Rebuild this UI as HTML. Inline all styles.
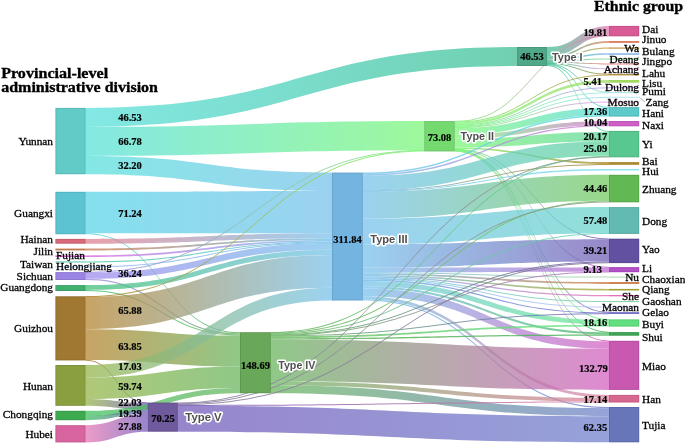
<!DOCTYPE html>
<html><head><meta charset="utf-8"><style>
html,body{margin:0;padding:0;background:#fff;width:685px;height:443px;overflow:hidden}
svg{display:block}
.t{font-family:"Liberation Serif",serif;font-size:11.3px;fill:#000;stroke:#000;stroke-width:0.3px}
.v{font-family:"Liberation Serif",serif;font-size:10.5px;font-weight:bold;fill:#000;stroke:#000;stroke-width:0.2px}
.h{font-family:"Liberation Serif",serif;font-size:15.2px;font-weight:bold;fill:#000;stroke:#000;stroke-width:0.35px}
.ty{font-family:"Liberation Sans",sans-serif;font-size:11.1px;font-weight:bold;fill:#505050;stroke:#fff;stroke-width:3.2px;paint-order:stroke;stroke-linejoin:round}
</style></head><body>
<svg width="685" height="443" viewBox="0 0 685 443">
<defs><linearGradient id="g0" gradientUnits="userSpaceOnUse" x1="85.7" x2="516.8" y1="0" y2="0"><stop offset="0" stop-color="#59e0db"/><stop offset="1" stop-color="#3ebf94"/></linearGradient>
<linearGradient id="g1" gradientUnits="userSpaceOnUse" x1="85.7" x2="424.2" y1="0" y2="0"><stop offset="0" stop-color="#59e0db"/><stop offset="1" stop-color="#7cf679"/></linearGradient>
<linearGradient id="g2" gradientUnits="userSpaceOnUse" x1="85.7" x2="332" y1="0" y2="0"><stop offset="0" stop-color="#59e0db"/><stop offset="1" stop-color="#79c2eb"/></linearGradient>
<linearGradient id="g3" gradientUnits="userSpaceOnUse" x1="85.7" x2="332" y1="0" y2="0"><stop offset="0" stop-color="#59d5e5"/><stop offset="1" stop-color="#79c2eb"/></linearGradient>
<linearGradient id="g4" gradientUnits="userSpaceOnUse" x1="85.7" x2="240" y1="0" y2="0"><stop offset="0" stop-color="#59d5e5"/><stop offset="1" stop-color="#69b55e"/></linearGradient>
<linearGradient id="g5" gradientUnits="userSpaceOnUse" x1="85.7" x2="332" y1="0" y2="0"><stop offset="0" stop-color="#e07f8f"/><stop offset="1" stop-color="#79c2eb"/></linearGradient>
<linearGradient id="g6" gradientUnits="userSpaceOnUse" x1="85.7" x2="332" y1="0" y2="0"><stop offset="0" stop-color="#ca7f53"/><stop offset="1" stop-color="#79c2eb"/></linearGradient>
<linearGradient id="g7" gradientUnits="userSpaceOnUse" x1="85.7" x2="332" y1="0" y2="0"><stop offset="0" stop-color="#d569e0"/><stop offset="1" stop-color="#79c2eb"/></linearGradient>
<linearGradient id="g8" gradientUnits="userSpaceOnUse" x1="85.7" x2="332" y1="0" y2="0"><stop offset="0" stop-color="#3eca9f"/><stop offset="1" stop-color="#79c2eb"/></linearGradient>
<linearGradient id="g9" gradientUnits="userSpaceOnUse" x1="85.7" x2="332" y1="0" y2="0"><stop offset="0" stop-color="#94baf0"/><stop offset="1" stop-color="#79c2eb"/></linearGradient>
<linearGradient id="g10" gradientUnits="userSpaceOnUse" x1="85.7" x2="424.2" y1="0" y2="0"><stop offset="0" stop-color="#9f89eb"/><stop offset="1" stop-color="#7cf679"/></linearGradient>
<linearGradient id="g11" gradientUnits="userSpaceOnUse" x1="85.7" x2="332" y1="0" y2="0"><stop offset="0" stop-color="#9f89eb"/><stop offset="1" stop-color="#79c2eb"/></linearGradient>
<linearGradient id="g12" gradientUnits="userSpaceOnUse" x1="85.7" x2="240" y1="0" y2="0"><stop offset="0" stop-color="#9f89eb"/><stop offset="1" stop-color="#69b55e"/></linearGradient>
<linearGradient id="g13" gradientUnits="userSpaceOnUse" x1="85.7" x2="332" y1="0" y2="0"><stop offset="0" stop-color="#3ebf74"/><stop offset="1" stop-color="#79c2eb"/></linearGradient>
<linearGradient id="g14" gradientUnits="userSpaceOnUse" x1="85.7" x2="240" y1="0" y2="0"><stop offset="0" stop-color="#3ebf74"/><stop offset="1" stop-color="#69b55e"/></linearGradient>
<linearGradient id="g15" gradientUnits="userSpaceOnUse" x1="85.7" x2="424.2" y1="0" y2="0"><stop offset="0" stop-color="#b58430"/><stop offset="1" stop-color="#7cf679"/></linearGradient>
<linearGradient id="g16" gradientUnits="userSpaceOnUse" x1="85.7" x2="332" y1="0" y2="0"><stop offset="0" stop-color="#b58430"/><stop offset="1" stop-color="#79c2eb"/></linearGradient>
<linearGradient id="g17" gradientUnits="userSpaceOnUse" x1="85.7" x2="240" y1="0" y2="0"><stop offset="0" stop-color="#b58430"/><stop offset="1" stop-color="#69b55e"/></linearGradient>
<linearGradient id="g18" gradientUnits="userSpaceOnUse" x1="85.7" x2="147.5" y1="0" y2="0"><stop offset="0" stop-color="#b58430"/><stop offset="1" stop-color="#745bba"/></linearGradient>
<linearGradient id="g19" gradientUnits="userSpaceOnUse" x1="85.7" x2="332" y1="0" y2="0"><stop offset="0" stop-color="#94b549"/><stop offset="1" stop-color="#79c2eb"/></linearGradient>
<linearGradient id="g20" gradientUnits="userSpaceOnUse" x1="85.7" x2="240" y1="0" y2="0"><stop offset="0" stop-color="#94b549"/><stop offset="1" stop-color="#69b55e"/></linearGradient>
<linearGradient id="g21" gradientUnits="userSpaceOnUse" x1="85.7" x2="147.5" y1="0" y2="0"><stop offset="0" stop-color="#94b549"/><stop offset="1" stop-color="#745bba"/></linearGradient>
<linearGradient id="g22" gradientUnits="userSpaceOnUse" x1="85.7" x2="240" y1="0" y2="0"><stop offset="0" stop-color="#3ebf5e"/><stop offset="1" stop-color="#69b55e"/></linearGradient>
<linearGradient id="g23" gradientUnits="userSpaceOnUse" x1="85.7" x2="147.5" y1="0" y2="0"><stop offset="0" stop-color="#3ebf5e"/><stop offset="1" stop-color="#745bba"/></linearGradient>
<linearGradient id="g24" gradientUnits="userSpaceOnUse" x1="85.7" x2="147.5" y1="0" y2="0"><stop offset="0" stop-color="#e579b5"/><stop offset="1" stop-color="#745bba"/></linearGradient>
<linearGradient id="g25" gradientUnits="userSpaceOnUse" x1="547.2" x2="609" y1="0" y2="0"><stop offset="0" stop-color="#3ebf94"/><stop offset="1" stop-color="#e077af"/></linearGradient>
<linearGradient id="g26" gradientUnits="userSpaceOnUse" x1="547.2" x2="609" y1="0" y2="0"><stop offset="0" stop-color="#3ebf94"/><stop offset="1" stop-color="#e07f53"/></linearGradient>
<linearGradient id="g27" gradientUnits="userSpaceOnUse" x1="547.2" x2="609" y1="0" y2="0"><stop offset="0" stop-color="#3ebf94"/><stop offset="1" stop-color="#d09f3e"/></linearGradient>
<linearGradient id="g28" gradientUnits="userSpaceOnUse" x1="547.2" x2="609" y1="0" y2="0"><stop offset="0" stop-color="#3ebf94"/><stop offset="1" stop-color="#7fb5eb"/></linearGradient>
<linearGradient id="g29" gradientUnits="userSpaceOnUse" x1="547.2" x2="609" y1="0" y2="0"><stop offset="0" stop-color="#3ebf94"/><stop offset="1" stop-color="#89db94"/></linearGradient>
<linearGradient id="g30" gradientUnits="userSpaceOnUse" x1="547.2" x2="609" y1="0" y2="0"><stop offset="0" stop-color="#3ebf94"/><stop offset="1" stop-color="#f07f7f"/></linearGradient>
<linearGradient id="g31" gradientUnits="userSpaceOnUse" x1="547.2" x2="609" y1="0" y2="0"><stop offset="0" stop-color="#3ebf94"/><stop offset="1" stop-color="#e09fe0"/></linearGradient>
<linearGradient id="g32" gradientUnits="userSpaceOnUse" x1="547.2" x2="609" y1="0" y2="0"><stop offset="0" stop-color="#3ebf94"/><stop offset="1" stop-color="#b5943e"/></linearGradient>
<linearGradient id="g33" gradientUnits="userSpaceOnUse" x1="547.2" x2="609" y1="0" y2="0"><stop offset="0" stop-color="#3ebf94"/><stop offset="1" stop-color="#9fe5e5"/></linearGradient>
<linearGradient id="g34" gradientUnits="userSpaceOnUse" x1="547.2" x2="609" y1="0" y2="0"><stop offset="0" stop-color="#3ebf94"/><stop offset="1" stop-color="#59dbdb"/></linearGradient>
<linearGradient id="g35" gradientUnits="userSpaceOnUse" x1="547.2" x2="609" y1="0" y2="0"><stop offset="0" stop-color="#3ebf94"/><stop offset="1" stop-color="#5ed59a"/></linearGradient>
<linearGradient id="g36" gradientUnits="userSpaceOnUse" x1="454.8" x2="609" y1="0" y2="0"><stop offset="0" stop-color="#7cf679"/><stop offset="1" stop-color="#e077af"/></linearGradient>
<linearGradient id="g37" gradientUnits="userSpaceOnUse" x1="454.8" x2="609" y1="0" y2="0"><stop offset="0" stop-color="#7cf679"/><stop offset="1" stop-color="#b5943e"/></linearGradient>
<linearGradient id="g38" gradientUnits="userSpaceOnUse" x1="454.8" x2="609" y1="0" y2="0"><stop offset="0" stop-color="#7cf679"/><stop offset="1" stop-color="#9fdb5e"/></linearGradient>
<linearGradient id="g39" gradientUnits="userSpaceOnUse" x1="454.8" x2="609" y1="0" y2="0"><stop offset="0" stop-color="#7cf679"/><stop offset="1" stop-color="#ba9af0"/></linearGradient>
<linearGradient id="g40" gradientUnits="userSpaceOnUse" x1="454.8" x2="609" y1="0" y2="0"><stop offset="0" stop-color="#7cf679"/><stop offset="1" stop-color="#9fe5e5"/></linearGradient>
<linearGradient id="g41" gradientUnits="userSpaceOnUse" x1="454.8" x2="609" y1="0" y2="0"><stop offset="0" stop-color="#7cf679"/><stop offset="1" stop-color="#9fe0f0"/></linearGradient>
<linearGradient id="g42" gradientUnits="userSpaceOnUse" x1="454.8" x2="609" y1="0" y2="0"><stop offset="0" stop-color="#7cf679"/><stop offset="1" stop-color="#e09feb"/></linearGradient>
<linearGradient id="g43" gradientUnits="userSpaceOnUse" x1="454.8" x2="609" y1="0" y2="0"><stop offset="0" stop-color="#7cf679"/><stop offset="1" stop-color="#59dbdb"/></linearGradient>
<linearGradient id="g44" gradientUnits="userSpaceOnUse" x1="454.8" x2="609" y1="0" y2="0"><stop offset="0" stop-color="#7cf679"/><stop offset="1" stop-color="#d574d0"/></linearGradient>
<linearGradient id="g45" gradientUnits="userSpaceOnUse" x1="454.8" x2="609" y1="0" y2="0"><stop offset="0" stop-color="#7cf679"/><stop offset="1" stop-color="#5ed59a"/></linearGradient>
<linearGradient id="g46" gradientUnits="userSpaceOnUse" x1="454.8" x2="609" y1="0" y2="0"><stop offset="0" stop-color="#7cf679"/><stop offset="1" stop-color="#af8928"/></linearGradient>
<linearGradient id="g47" gradientUnits="userSpaceOnUse" x1="454.8" x2="609" y1="0" y2="0"><stop offset="0" stop-color="#7cf679"/><stop offset="1" stop-color="#745eb5"/></linearGradient>
<linearGradient id="g48" gradientUnits="userSpaceOnUse" x1="454.8" x2="609" y1="0" y2="0"><stop offset="0" stop-color="#7cf679"/><stop offset="1" stop-color="#bf69d0"/></linearGradient>
<linearGradient id="g49" gradientUnits="userSpaceOnUse" x1="454.8" x2="609" y1="0" y2="0"><stop offset="0" stop-color="#7cf679"/><stop offset="1" stop-color="#7469ca"/></linearGradient>
<linearGradient id="g50" gradientUnits="userSpaceOnUse" x1="454.8" x2="609" y1="0" y2="0"><stop offset="0" stop-color="#7cf679"/><stop offset="1" stop-color="#69eb89"/></linearGradient>
<linearGradient id="g51" gradientUnits="userSpaceOnUse" x1="454.8" x2="609" y1="0" y2="0"><stop offset="0" stop-color="#7cf679"/><stop offset="1" stop-color="#49b55e"/></linearGradient>
<linearGradient id="g52" gradientUnits="userSpaceOnUse" x1="454.8" x2="609" y1="0" y2="0"><stop offset="0" stop-color="#7cf679"/><stop offset="1" stop-color="#d561c2"/></linearGradient>
<linearGradient id="g53" gradientUnits="userSpaceOnUse" x1="362.9" x2="609" y1="0" y2="0"><stop offset="0" stop-color="#79c2eb"/><stop offset="1" stop-color="#59dbdb"/></linearGradient>
<linearGradient id="g54" gradientUnits="userSpaceOnUse" x1="362.9" x2="609" y1="0" y2="0"><stop offset="0" stop-color="#79c2eb"/><stop offset="1" stop-color="#d574d0"/></linearGradient>
<linearGradient id="g55" gradientUnits="userSpaceOnUse" x1="362.9" x2="609" y1="0" y2="0"><stop offset="0" stop-color="#79c2eb"/><stop offset="1" stop-color="#5ed59a"/></linearGradient>
<linearGradient id="g56" gradientUnits="userSpaceOnUse" x1="362.9" x2="609" y1="0" y2="0"><stop offset="0" stop-color="#79c2eb"/><stop offset="1" stop-color="#af8928"/></linearGradient>
<linearGradient id="g57" gradientUnits="userSpaceOnUse" x1="362.9" x2="609" y1="0" y2="0"><stop offset="0" stop-color="#79c2eb"/><stop offset="1" stop-color="#7fe0f0"/></linearGradient>
<linearGradient id="g58" gradientUnits="userSpaceOnUse" x1="362.9" x2="609" y1="0" y2="0"><stop offset="0" stop-color="#79c2eb"/><stop offset="1" stop-color="#74ca5e"/></linearGradient>
<linearGradient id="g59" gradientUnits="userSpaceOnUse" x1="362.9" x2="609" y1="0" y2="0"><stop offset="0" stop-color="#79c2eb"/><stop offset="1" stop-color="#69d5ca"/></linearGradient>
<linearGradient id="g60" gradientUnits="userSpaceOnUse" x1="362.9" x2="609" y1="0" y2="0"><stop offset="0" stop-color="#79c2eb"/><stop offset="1" stop-color="#745eb5"/></linearGradient>
<linearGradient id="g61" gradientUnits="userSpaceOnUse" x1="362.9" x2="609" y1="0" y2="0"><stop offset="0" stop-color="#79c2eb"/><stop offset="1" stop-color="#bf69d0"/></linearGradient>
<linearGradient id="g62" gradientUnits="userSpaceOnUse" x1="362.9" x2="609" y1="0" y2="0"><stop offset="0" stop-color="#79c2eb"/><stop offset="1" stop-color="#a4d59f"/></linearGradient>
<linearGradient id="g63" gradientUnits="userSpaceOnUse" x1="362.9" x2="609" y1="0" y2="0"><stop offset="0" stop-color="#79c2eb"/><stop offset="1" stop-color="#d07f49"/></linearGradient>
<linearGradient id="g64" gradientUnits="userSpaceOnUse" x1="362.9" x2="609" y1="0" y2="0"><stop offset="0" stop-color="#79c2eb"/><stop offset="1" stop-color="#aaaa33"/></linearGradient>
<linearGradient id="g65" gradientUnits="userSpaceOnUse" x1="362.9" x2="609" y1="0" y2="0"><stop offset="0" stop-color="#79c2eb"/><stop offset="1" stop-color="#e574ba"/></linearGradient>
<linearGradient id="g66" gradientUnits="userSpaceOnUse" x1="362.9" x2="609" y1="0" y2="0"><stop offset="0" stop-color="#79c2eb"/><stop offset="1" stop-color="#7fd09f"/></linearGradient>
<linearGradient id="g67" gradientUnits="userSpaceOnUse" x1="362.9" x2="609" y1="0" y2="0"><stop offset="0" stop-color="#79c2eb"/><stop offset="1" stop-color="#bac5f0"/></linearGradient>
<linearGradient id="g68" gradientUnits="userSpaceOnUse" x1="362.9" x2="609" y1="0" y2="0"><stop offset="0" stop-color="#79c2eb"/><stop offset="1" stop-color="#7469ca"/></linearGradient>
<linearGradient id="g69" gradientUnits="userSpaceOnUse" x1="362.9" x2="609" y1="0" y2="0"><stop offset="0" stop-color="#79c2eb"/><stop offset="1" stop-color="#69eb89"/></linearGradient>
<linearGradient id="g70" gradientUnits="userSpaceOnUse" x1="362.9" x2="609" y1="0" y2="0"><stop offset="0" stop-color="#79c2eb"/><stop offset="1" stop-color="#49b55e"/></linearGradient>
<linearGradient id="g71" gradientUnits="userSpaceOnUse" x1="362.9" x2="609" y1="0" y2="0"><stop offset="0" stop-color="#79c2eb"/><stop offset="1" stop-color="#d561c2"/></linearGradient>
<linearGradient id="g72" gradientUnits="userSpaceOnUse" x1="362.9" x2="609" y1="0" y2="0"><stop offset="0" stop-color="#79c2eb"/><stop offset="1" stop-color="#e07f9f"/></linearGradient>
<linearGradient id="g73" gradientUnits="userSpaceOnUse" x1="362.9" x2="609" y1="0" y2="0"><stop offset="0" stop-color="#79c2eb"/><stop offset="1" stop-color="#7181cd"/></linearGradient>
<linearGradient id="g74" gradientUnits="userSpaceOnUse" x1="270.9" x2="609" y1="0" y2="0"><stop offset="0" stop-color="#69b55e"/><stop offset="1" stop-color="#5ed59a"/></linearGradient>
<linearGradient id="g75" gradientUnits="userSpaceOnUse" x1="270.9" x2="609" y1="0" y2="0"><stop offset="0" stop-color="#69b55e"/><stop offset="1" stop-color="#74ca5e"/></linearGradient>
<linearGradient id="g76" gradientUnits="userSpaceOnUse" x1="270.9" x2="609" y1="0" y2="0"><stop offset="0" stop-color="#69b55e"/><stop offset="1" stop-color="#69d5ca"/></linearGradient>
<linearGradient id="g77" gradientUnits="userSpaceOnUse" x1="270.9" x2="609" y1="0" y2="0"><stop offset="0" stop-color="#69b55e"/><stop offset="1" stop-color="#745eb5"/></linearGradient>
<linearGradient id="g78" gradientUnits="userSpaceOnUse" x1="270.9" x2="609" y1="0" y2="0"><stop offset="0" stop-color="#69b55e"/><stop offset="1" stop-color="#bf69d0"/></linearGradient>
<linearGradient id="g79" gradientUnits="userSpaceOnUse" x1="270.9" x2="609" y1="0" y2="0"><stop offset="0" stop-color="#69b55e"/><stop offset="1" stop-color="#7469ca"/></linearGradient>
<linearGradient id="g80" gradientUnits="userSpaceOnUse" x1="270.9" x2="609" y1="0" y2="0"><stop offset="0" stop-color="#69b55e"/><stop offset="1" stop-color="#69eb89"/></linearGradient>
<linearGradient id="g81" gradientUnits="userSpaceOnUse" x1="270.9" x2="609" y1="0" y2="0"><stop offset="0" stop-color="#69b55e"/><stop offset="1" stop-color="#49b55e"/></linearGradient>
<linearGradient id="g82" gradientUnits="userSpaceOnUse" x1="270.9" x2="609" y1="0" y2="0"><stop offset="0" stop-color="#69b55e"/><stop offset="1" stop-color="#d561c2"/></linearGradient>
<linearGradient id="g83" gradientUnits="userSpaceOnUse" x1="270.9" x2="609" y1="0" y2="0"><stop offset="0" stop-color="#69b55e"/><stop offset="1" stop-color="#e07f9f"/></linearGradient>
<linearGradient id="g84" gradientUnits="userSpaceOnUse" x1="270.9" x2="609" y1="0" y2="0"><stop offset="0" stop-color="#69b55e"/><stop offset="1" stop-color="#7181cd"/></linearGradient>
<linearGradient id="g85" gradientUnits="userSpaceOnUse" x1="177.9" x2="609" y1="0" y2="0"><stop offset="0" stop-color="#8a7ca0"/><stop offset="1" stop-color="#8a9a8a"/></linearGradient>
<linearGradient id="g86" gradientUnits="userSpaceOnUse" x1="177.9" x2="609" y1="0" y2="0"><stop offset="0" stop-color="#8a7ca0"/><stop offset="1" stop-color="#8a9a8a"/></linearGradient>
<linearGradient id="g87" gradientUnits="userSpaceOnUse" x1="177.9" x2="609" y1="0" y2="0"><stop offset="0" stop-color="#8a7ca0"/><stop offset="1" stop-color="#807890"/></linearGradient>
<linearGradient id="g88" gradientUnits="userSpaceOnUse" x1="177.9" x2="609" y1="0" y2="0"><stop offset="0" stop-color="#745bba"/><stop offset="1" stop-color="#e07f9f"/></linearGradient>
<linearGradient id="g89" gradientUnits="userSpaceOnUse" x1="177.9" x2="609" y1="0" y2="0"><stop offset="0" stop-color="#745bba"/><stop offset="1" stop-color="#7181cd"/></linearGradient></defs>
<g><path d="M85.7,107.9C301.25,107.9 301.25,47 516.8,47L516.8,66C301.25,66 301.25,126.9 85.7,126.9Z" fill="url(#g0)" fill-opacity="0.74"/>
<path d="M85.7,126.9C254.95,126.9 254.95,121.1 424.2,121.1L424.2,150.2C254.95,150.2 254.95,155.9 85.7,155.9Z" fill="url(#g1)" fill-opacity="0.74"/>
<path d="M85.7,155.9C208.85,155.9 208.85,172.6 332,172.6L332,191.02C208.85,191.02 208.85,174.2 85.7,174.2Z" fill="url(#g2)" fill-opacity="0.74"/>
<path d="M85.7,191.8C208.85,191.8 208.85,191.02 332,191.02L332,233.28C208.85,233.28 208.85,233.21 85.7,233.21Z" fill="url(#g3)" fill-opacity="0.74"/>
<path d="M85.7,233.21C162.85,233.21 162.85,332.2 240,332.2L240,333.2C162.85,333.2 162.85,234.21 85.7,234.21Z" fill="url(#g4)" fill-opacity="0.85"/>
<path d="M85.7,238.9C208.85,238.9 208.85,233.28 332,233.28L332,238.31C208.85,238.31 208.85,243.7 85.7,243.7Z" fill="url(#g5)" fill-opacity="0.74"/>
<path d="M85.7,248.6C208.85,248.6 208.85,238.31 332,238.31L332,239.92C208.85,239.92 208.85,250.4 85.7,250.4Z" fill="url(#g6)" fill-opacity="0.8"/>
<path d="M85.7,255.4C208.85,255.4 208.85,239.92 332,239.92L332,241.53C208.85,241.53 208.85,257 85.7,257Z" fill="url(#g7)" fill-opacity="0.8"/>
<path d="M85.7,261.45C208.85,261.45 208.85,241.43 332,241.43L332,242.43C208.85,242.43 208.85,262.45 85.7,262.45Z" fill="url(#g8)" fill-opacity="0.85"/>
<path d="M85.7,266.4C208.85,266.4 208.85,242.19 332,242.19L332,243.19C208.85,243.19 208.85,267.4 85.7,267.4Z" fill="url(#g9)" fill-opacity="0.85"/>
<path d="M85.7,271.88C254.95,271.88 254.95,150 424.2,150L424.2,151C254.95,151 254.95,272.88 85.7,272.88Z" fill="url(#g10)" fill-opacity="0.85"/>
<path d="M85.7,272.66C208.85,272.66 208.85,243.04 332,243.04L332,249.68C208.85,249.68 208.85,278.79 85.7,278.79Z" fill="url(#g11)" fill-opacity="0.74"/>
<path d="M85.7,278.79C162.85,278.79 162.85,333.2 240,333.2L240,334.5C162.85,334.5 162.85,280 85.7,280Z" fill="url(#g12)" fill-opacity="0.8"/>
<path d="M85.7,285.1C208.85,285.1 208.85,249.68 332,249.68L332,255.12C208.85,255.12 208.85,290 85.7,290Z" fill="url(#g13)" fill-opacity="0.74"/>
<path d="M85.7,290C162.85,290 162.85,334.5 240,334.5L240,335.59C162.85,335.59 162.85,291 85.7,291Z" fill="url(#g14)" fill-opacity="0.85"/>
<path d="M85.7,296.1C254.95,296.1 254.95,150.6 424.2,150.6L424.2,151.6C254.95,151.6 254.95,297.1 85.7,297.1Z" fill="url(#g15)" fill-opacity="0.85"/>
<path d="M85.7,296.9C208.85,296.9 208.85,255.12 332,255.12L332,287.82C208.85,287.82 208.85,329.14 85.7,329.14Z" fill="url(#g16)" fill-opacity="0.74"/>
<path d="M85.7,329.14C162.85,329.14 162.85,335.59 240,335.59L240,366.54C162.85,366.54 162.85,359.9 85.7,359.9Z" fill="url(#g17)" fill-opacity="0.74"/>
<path d="M85.7,359.65C116.6,359.65 116.6,402.35 147.5,402.35L147.5,403.35C116.6,403.35 116.6,360.65 85.7,360.65Z" fill="url(#g18)" fill-opacity="0.85"/>
<path d="M85.7,365C208.85,365 208.85,287.82 332,287.82L332,300.5C208.85,300.5 208.85,377.6 85.7,377.6Z" fill="url(#g19)" fill-opacity="0.74"/>
<path d="M85.7,377.6C162.85,377.6 162.85,366.54 240,366.54L240,387.91C162.85,387.91 162.85,399 85.7,399Z" fill="url(#g20)" fill-opacity="0.74"/>
<path d="M85.7,399C116.6,399 116.6,403.11 147.5,403.11L147.5,409.98C116.6,409.98 116.6,405.8 85.7,405.8Z" fill="url(#g21)" fill-opacity="0.74"/>
<path d="M85.7,410.8C162.85,410.8 162.85,387.91 240,387.91L240,393.2C162.85,393.2 162.85,416.1 85.7,416.1Z" fill="url(#g22)" fill-opacity="0.74"/>
<path d="M85.7,416.1C116.6,416.1 116.6,409.98 147.5,409.98L147.5,414.12C116.6,414.12 116.6,420.2 85.7,420.2Z" fill="url(#g23)" fill-opacity="0.74"/>
<path d="M85.7,425.2C116.6,425.2 116.6,414.12 147.5,414.12L147.5,431.7C116.6,431.7 116.6,442.4 85.7,442.4Z" fill="url(#g24)" fill-opacity="0.74"/>
<path d="M547.2,47C578.1,47 578.1,25.9 609,25.9L609,35.79C578.1,35.79 578.1,56.6 547.2,56.6Z" fill="url(#g25)" fill-opacity="0.74"/>
<path d="M547.2,56.6C578.1,56.6 578.1,41.1 609,41.1L609,42.8C578.1,42.8 578.1,58.2 547.2,58.2Z" fill="url(#g26)" fill-opacity="0.8"/>
<path d="M547.2,58.2C578.1,58.2 578.1,47.4 609,47.4L609,48.8C578.1,48.8 578.1,59.5 547.2,59.5Z" fill="url(#g27)" fill-opacity="0.8"/>
<path d="M547.2,59.5C578.1,59.5 578.1,53.3 609,53.3L609,54.8C578.1,54.8 578.1,60.9 547.2,60.9Z" fill="url(#g28)" fill-opacity="0.8"/>
<path d="M547.2,60.8C578.1,60.8 578.1,58.5 609,58.5L609,59.5C578.1,59.5 578.1,61.8 547.2,61.8Z" fill="url(#g29)" fill-opacity="0.85"/>
<path d="M547.2,61.6C578.1,61.6 578.1,63.5 609,63.5L609,64.5C578.1,64.5 578.1,62.6 547.2,62.6Z" fill="url(#g30)" fill-opacity="0.85"/>
<path d="M547.2,62.35C578.1,62.35 578.1,68.5 609,68.5L609,69.5C578.1,69.5 578.1,63.35 547.2,63.35Z" fill="url(#g31)" fill-opacity="0.85"/>
<path d="M547.2,63C578.1,63 578.1,73.72 609,73.72L609,74.72C578.1,74.72 578.1,64 547.2,64Z" fill="url(#g32)" fill-opacity="0.85"/>
<path d="M547.2,63.45C578.1,63.45 578.1,91.77 609,91.77L609,92.77C578.1,92.77 578.1,64.45 547.2,64.45Z" fill="url(#g33)" fill-opacity="0.85"/>
<path d="M547.2,64.05C578.1,64.05 578.1,107.05 609,107.05L609,108.05C578.1,108.05 578.1,65.05 547.2,65.05Z" fill="url(#g34)" fill-opacity="0.85"/>
<path d="M547.2,65C578.1,65 578.1,130.9 609,130.9L609,131.93C578.1,131.93 578.1,66 547.2,66Z" fill="url(#g35)" fill-opacity="0.85"/>
<path d="M454.8,120.84C531.9,120.84 531.9,35.54 609,35.54L609,36.54C531.9,36.54 531.9,121.84 454.8,121.84Z" fill="url(#g36)" fill-opacity="0.85"/>
<path d="M454.8,121.46C531.9,121.46 531.9,74.47 609,74.47L609,75.47C531.9,75.47 531.9,122.46 454.8,122.46Z" fill="url(#g37)" fill-opacity="0.85"/>
<path d="M454.8,122.35C531.9,122.35 531.9,80 609,80L609,82.7C531.9,82.7 531.9,124.94 454.8,124.94Z" fill="url(#g38)" fill-opacity="0.74"/>
<path d="M454.8,124.87C531.9,124.87 531.9,87.2 609,87.2L609,88.2C531.9,88.2 531.9,125.87 454.8,125.87Z" fill="url(#g39)" fill-opacity="0.85"/>
<path d="M454.8,125.59C531.9,125.59 531.9,92.27 609,92.27L609,93.27C531.9,93.27 531.9,126.59 454.8,126.59Z" fill="url(#g40)" fill-opacity="0.85"/>
<path d="M454.8,126.22C531.9,126.22 531.9,96.7 609,96.7L609,97.7C531.9,97.7 531.9,127.22 454.8,127.22Z" fill="url(#g41)" fill-opacity="0.85"/>
<path d="M454.8,126.99C531.9,126.99 531.9,101.6 609,101.6L609,102.6C531.9,102.6 531.9,127.99 454.8,127.99Z" fill="url(#g42)" fill-opacity="0.85"/>
<path d="M454.8,127.92C531.9,127.92 531.9,108.01 609,108.01L609,115.08C531.9,115.08 531.9,134.64 454.8,134.64Z" fill="url(#g43)" fill-opacity="0.74"/>
<path d="M454.8,134.64C531.9,134.64 531.9,121 609,121L609,124.93C531.9,124.93 531.9,138.77 454.8,138.77Z" fill="url(#g44)" fill-opacity="0.74"/>
<path d="M454.8,138.77C531.9,138.77 531.9,131.93 609,131.93L609,141.17C531.9,141.17 531.9,147.41 454.8,147.41Z" fill="url(#g45)" fill-opacity="0.74"/>
<path d="M454.8,147.41C531.9,147.41 531.9,162.1 609,162.1L609,164.16C531.9,164.16 531.9,148.95 454.8,148.95Z" fill="url(#g46)" fill-opacity="0.8"/>
<path d="M454.8,148.67C531.9,148.67 531.9,238.42 609,238.42L609,239.42C531.9,239.42 531.9,149.67 454.8,149.67Z" fill="url(#g47)" fill-opacity="0.85"/>
<path d="M454.8,149.08C531.9,149.08 531.9,266.79 609,266.79L609,267.79C531.9,267.79 531.9,150.08 454.8,150.08Z" fill="url(#g48)" fill-opacity="0.85"/>
<path d="M454.8,149.46C531.9,149.46 531.9,311.84 609,311.84L609,312.84C531.9,312.84 531.9,150.46 454.8,150.46Z" fill="url(#g49)" fill-opacity="0.85"/>
<path d="M454.8,149.87C531.9,149.87 531.9,319.12 609,319.12L609,320.12C531.9,320.12 531.9,150.87 454.8,150.87Z" fill="url(#g50)" fill-opacity="0.85"/>
<path d="M454.8,150.28C531.9,150.28 531.9,331.78 609,331.78L609,332.78C531.9,332.78 531.9,151.28 454.8,151.28Z" fill="url(#g51)" fill-opacity="0.85"/>
<path d="M454.8,150.68C531.9,150.68 531.9,340.52 609,340.52L609,341.52C531.9,341.52 531.9,151.68 454.8,151.68Z" fill="url(#g52)" fill-opacity="0.85"/>
<path d="M362.9,172.6C485.95,172.6 485.95,115.08 609,115.08L609,116.6C485.95,116.6 485.95,174.15 362.9,174.15Z" fill="url(#g53)" fill-opacity="0.8"/>
<path d="M362.9,174.15C485.95,174.15 485.95,124.93 609,124.93L609,126.3C485.95,126.3 485.95,175.69 362.9,175.69Z" fill="url(#g54)" fill-opacity="0.8"/>
<path d="M362.9,175.69C485.95,175.69 485.95,141.17 609,141.17L609,155.86C485.95,155.86 485.95,190.43 362.9,190.43Z" fill="url(#g55)" fill-opacity="0.74"/>
<path d="M362.9,190.19C485.95,190.19 485.95,163.98 609,163.98L609,164.98C485.95,164.98 485.95,191.19 362.9,191.19Z" fill="url(#g56)" fill-opacity="0.85"/>
<path d="M362.9,190.86C485.95,190.86 485.95,169.1 609,169.1L609,170.4C485.95,170.4 485.95,191.86 362.9,191.86Z" fill="url(#g57)" fill-opacity="0.85"/>
<path d="M362.9,191.77C485.95,191.77 485.95,174.8 609,174.8L609,200.71C485.95,200.71 485.95,218.57 362.9,218.57Z" fill="url(#g58)" fill-opacity="0.74"/>
<path d="M362.9,218.57C485.95,218.57 485.95,207.1 609,207.1L609,233.18C485.95,233.18 485.95,244.54 362.9,244.54Z" fill="url(#g59)" fill-opacity="0.74"/>
<path d="M362.9,244.54C485.95,244.54 485.95,239.15 609,239.15L609,261.5C485.95,261.5 485.95,267.62 362.9,267.62Z" fill="url(#g60)" fill-opacity="0.74"/>
<path d="M362.9,267.62C485.95,267.62 485.95,267.47 609,267.47L609,271.74C485.95,271.74 485.95,272.36 362.9,272.36Z" fill="url(#g61)" fill-opacity="0.74"/>
<path d="M362.9,272.33C485.95,272.33 485.95,276.6 609,276.6L609,277.6C485.95,277.6 485.95,273.33 362.9,273.33Z" fill="url(#g62)" fill-opacity="0.85"/>
<path d="M362.9,273.29C485.95,273.29 485.95,282.1 609,282.1L609,283.9C485.95,283.9 485.95,275.04 362.9,275.04Z" fill="url(#g63)" fill-opacity="0.8"/>
<path d="M362.9,275.04C485.95,275.04 485.95,288.9 609,288.9L609,290.5C485.95,290.5 485.95,276.59 362.9,276.59Z" fill="url(#g64)" fill-opacity="0.8"/>
<path d="M362.9,276.59C485.95,276.59 485.95,295.1 609,295.1L609,296.3C485.95,296.3 485.95,277.72 362.9,277.72Z" fill="url(#g65)" fill-opacity="0.85"/>
<path d="M362.9,277.69C485.95,277.69 485.95,301.1 609,301.1L609,302.1C485.95,302.1 485.95,278.69 362.9,278.69Z" fill="url(#g66)" fill-opacity="0.85"/>
<path d="M362.9,278.61C485.95,278.61 485.95,306.6 609,306.6L609,307.6C485.95,307.6 485.95,279.61 362.9,279.61Z" fill="url(#g67)" fill-opacity="0.85"/>
<path d="M362.9,279.58C485.95,279.58 485.95,312.45 609,312.45L609,313.45C485.95,313.45 485.95,281.02 362.9,281.02Z" fill="url(#g68)" fill-opacity="0.85"/>
<path d="M362.9,281.02C485.95,281.02 485.95,319.83 609,319.83L609,324.67C485.95,324.67 485.95,286.17 362.9,286.17Z" fill="url(#g69)" fill-opacity="0.74"/>
<path d="M362.9,286.17C485.95,286.17 485.95,332.46 609,332.46L609,334.53C485.95,334.53 485.95,288.54 362.9,288.54Z" fill="url(#g70)" fill-opacity="0.74"/>
<path d="M362.9,288.54C485.95,288.54 485.95,341.25 609,341.25L609,348.61C485.95,348.61 485.95,296.17 362.9,296.17Z" fill="url(#g71)" fill-opacity="0.74"/>
<path d="M362.9,296.17C485.95,296.17 485.95,394.9 609,394.9L609,397.82C485.95,397.82 485.95,299.26 362.9,299.26Z" fill="url(#g72)" fill-opacity="0.74"/>
<path d="M362.9,299.26C485.95,299.26 485.95,407 609,407L609,408.2C485.95,408.2 485.95,300.5 362.9,300.5Z" fill="url(#g73)" fill-opacity="0.8"/>
<path d="M270.9,332C439.95,332 439.95,155.67 609,155.67L609,156.67C439.95,156.67 439.95,333 270.9,333Z" fill="url(#g74)" fill-opacity="0.85"/>
<path d="M270.9,332.7C439.95,332.7 439.95,200.6 609,200.6L609,201.6C439.95,201.6 439.95,333.7 270.9,333.7Z" fill="url(#g75)" fill-opacity="0.85"/>
<path d="M270.9,333.45C439.95,333.45 439.95,233.04 609,233.04L609,234.04C439.95,234.04 439.95,334.45 270.9,334.45Z" fill="url(#g76)" fill-opacity="0.85"/>
<path d="M270.9,334.2C439.95,334.2 439.95,261.4 609,261.4L609,262.4C439.95,262.4 439.95,335.2 270.9,335.2Z" fill="url(#g77)" fill-opacity="0.85"/>
<path d="M270.9,334.86C439.95,334.86 439.95,271.47 609,271.47L609,272.47C439.95,272.47 439.95,335.86 270.9,335.86Z" fill="url(#g78)" fill-opacity="0.85"/>
<path d="M270.9,335.46C439.95,335.46 439.95,313.16 609,313.16L609,314.16C439.95,314.16 439.95,336.46 270.9,336.46Z" fill="url(#g79)" fill-opacity="0.85"/>
<path d="M270.9,336.31C439.95,336.31 439.95,324.67 609,324.67L609,326.6C439.95,326.6 439.95,338.31 270.9,338.31Z" fill="url(#g80)" fill-opacity="0.8"/>
<path d="M270.9,338.31C439.95,338.31 439.95,334.53 609,334.53L609,335.7C439.95,335.7 439.95,339.61 270.9,339.61Z" fill="url(#g81)" fill-opacity="0.85"/>
<path d="M270.9,339.61C439.95,339.61 439.95,348.61 609,348.61L609,389.9C439.95,389.9 439.95,381.18 270.9,381.18Z" fill="url(#g82)" fill-opacity="0.74"/>
<path d="M270.9,381.18C439.95,381.18 439.95,397.82 609,397.82L609,401.72C439.95,401.72 439.95,385.19 270.9,385.19Z" fill="url(#g83)" fill-opacity="0.74"/>
<path d="M270.9,385.19C439.95,385.19 439.95,408.2 609,408.2L609,416.23C439.95,416.23 439.95,393.2 270.9,393.2Z" fill="url(#g84)" fill-opacity="0.74"/>
<path d="M177.9,402.5C393.45,402.5 393.45,156.39 609,156.39L609,157.39C393.45,157.39 393.45,403.5 177.9,403.5Z" fill="url(#g85)" fill-opacity="0.85"/>
<path d="M177.9,403.3C393.45,403.3 393.45,201.4 609,201.4L609,202.4C393.45,202.4 393.45,404.3 177.9,404.3Z" fill="url(#g86)" fill-opacity="0.85"/>
<path d="M177.9,404.09C393.45,404.09 393.45,262.2 609,262.2L609,263.2C393.45,263.2 393.45,405.09 177.9,405.09Z" fill="url(#g87)" fill-opacity="0.85"/>
<path d="M177.9,404.89C393.45,404.89 393.45,401.61 609,401.61L609,402.61C393.45,402.61 393.45,405.89 177.9,405.89Z" fill="url(#g88)" fill-opacity="0.85"/>
<path d="M177.9,405.79C393.45,405.79 393.45,416.23 609,416.23L609,442.3C393.45,442.3 393.45,431.7 177.9,431.7Z" fill="url(#g89)" fill-opacity="0.74"/></g>
<g><rect x="55.4" y="107.9" width="30.3" height="66.3" fill="#62cbc7"/>
<rect x="55.9" y="108.4" width="29.3" height="65.3" fill="none" stroke="#000" stroke-opacity="0.09" stroke-width="1"/>
<rect x="55.4" y="191.8" width="30.3" height="42.4" fill="#5cc3d3"/>
<rect x="55.9" y="192.3" width="29.3" height="41.4" fill="none" stroke="#000" stroke-opacity="0.09" stroke-width="1"/>
<rect x="55.4" y="238.9" width="30.3" height="4.8" fill="#d86a7a"/>
<rect x="55.9" y="239.4" width="29.3" height="3.8" fill="none" stroke="#000" stroke-opacity="0.09" stroke-width="1"/>
<rect x="55.4" y="248.6" width="30.3" height="1.8" fill="#c0784a"/>
<rect x="55.4" y="255.4" width="30.3" height="1.6" fill="#d064d8"/>
<rect x="55.4" y="261.5" width="30.3" height="0.9" fill="#40c0a0"/>
<rect x="55.4" y="266.5" width="30.3" height="0.8" fill="#90b8f0"/>
<rect x="55.4" y="272.1" width="30.3" height="7.9" fill="#9c84e4"/>
<rect x="55.9" y="272.6" width="29.3" height="6.9" fill="none" stroke="#000" stroke-opacity="0.09" stroke-width="1"/>
<rect x="55.4" y="285.1" width="30.3" height="5.9" fill="#40b070"/>
<rect x="55.9" y="285.6" width="29.3" height="4.9" fill="none" stroke="#000" stroke-opacity="0.09" stroke-width="1"/>
<rect x="55.4" y="296.3" width="30.3" height="64.1" fill="#a07832"/>
<rect x="55.9" y="296.8" width="29.3" height="63.1" fill="none" stroke="#000" stroke-opacity="0.09" stroke-width="1"/>
<rect x="55.4" y="365" width="30.3" height="40.8" fill="#8aa040"/>
<rect x="55.9" y="365.5" width="29.3" height="39.8" fill="none" stroke="#000" stroke-opacity="0.09" stroke-width="1"/>
<rect x="55.4" y="410.8" width="30.3" height="9.4" fill="#3eaa50"/>
<rect x="55.9" y="411.3" width="29.3" height="8.4" fill="none" stroke="#000" stroke-opacity="0.09" stroke-width="1"/>
<rect x="55.4" y="425.2" width="30.3" height="17.2" fill="#d864a0"/>
<rect x="55.9" y="425.7" width="29.3" height="16.2" fill="none" stroke="#000" stroke-opacity="0.09" stroke-width="1"/>
<rect x="516.8" y="47" width="30.4" height="19" fill="#4fa888"/>
<rect x="517.3" y="47.5" width="29.4" height="18" fill="none" stroke="#000" stroke-opacity="0.09" stroke-width="1"/>
<rect x="424.2" y="121.1" width="30.6" height="30.3" fill="#74da70"/>
<rect x="424.7" y="121.6" width="29.6" height="29.3" fill="none" stroke="#000" stroke-opacity="0.09" stroke-width="1"/>
<rect x="332" y="172.6" width="30.9" height="127.9" fill="#74b4e0"/>
<rect x="332.5" y="173.1" width="29.9" height="126.9" fill="none" stroke="#000" stroke-opacity="0.09" stroke-width="1"/>
<rect x="240" y="332.2" width="30.9" height="61" fill="#68a858"/>
<rect x="240.5" y="332.7" width="29.9" height="60" fill="none" stroke="#000" stroke-opacity="0.09" stroke-width="1"/>
<rect x="147.5" y="402.6" width="30.4" height="29.1" fill="#6e5a9c"/>
<rect x="148" y="403.1" width="29.4" height="28.1" fill="none" stroke="#000" stroke-opacity="0.09" stroke-width="1"/>
<rect x="609" y="25.9" width="30.2" height="10.4" fill="#d85a96"/>
<rect x="609.5" y="26.4" width="29.2" height="9.4" fill="none" stroke="#000" stroke-opacity="0.09" stroke-width="1"/>
<rect x="609" y="41.1" width="30.2" height="1.7" fill="#d87050"/>
<rect x="609" y="47.4" width="30.2" height="1.4" fill="#c8a060"/>
<rect x="609" y="53.3" width="30.2" height="1.5" fill="#80b0e8"/>
<rect x="609" y="58.5" width="30.2" height="1" fill="#90d898"/>
<rect x="609" y="63.5" width="30.2" height="1" fill="#f08080"/>
<rect x="609" y="68.5" width="30.2" height="1" fill="#e0a0e0"/>
<rect x="609" y="73.9" width="30.2" height="1.5" fill="#b09040"/>
<rect x="609" y="80" width="30.2" height="2.7" fill="#a0d860"/>
<rect x="609" y="87.2" width="30.2" height="1" fill="#c0a0f0"/>
<rect x="609" y="92.1" width="30.2" height="1" fill="#a8e4e4"/>
<rect x="609" y="96.8" width="30.2" height="0.8" fill="#a0e0f0"/>
<rect x="609" y="101.6" width="30.2" height="1" fill="#e0a0e8"/>
<rect x="609" y="107.1" width="30.2" height="9.5" fill="#5ccaca"/>
<rect x="609.5" y="107.6" width="29.2" height="8.5" fill="none" stroke="#000" stroke-opacity="0.09" stroke-width="1"/>
<rect x="609" y="121" width="30.2" height="5.3" fill="#d060c8"/>
<rect x="609.5" y="121.5" width="29.2" height="4.3" fill="none" stroke="#000" stroke-opacity="0.09" stroke-width="1"/>
<rect x="609" y="130.9" width="30.2" height="26.4" fill="#58c890"/>
<rect x="609.5" y="131.4" width="29.2" height="25.4" fill="none" stroke="#000" stroke-opacity="0.09" stroke-width="1"/>
<rect x="609" y="162.1" width="30.2" height="2.7" fill="#a88830"/>
<rect x="609" y="169.1" width="30.2" height="1.3" fill="#80e0f0"/>
<rect x="609" y="174.8" width="30.2" height="27.5" fill="#62b852"/>
<rect x="609.5" y="175.3" width="29.2" height="26.5" fill="none" stroke="#000" stroke-opacity="0.09" stroke-width="1"/>
<rect x="609" y="207.1" width="30.2" height="26.8" fill="#62bab2"/>
<rect x="609.5" y="207.6" width="29.2" height="25.8" fill="none" stroke="#000" stroke-opacity="0.09" stroke-width="1"/>
<rect x="609" y="238.7" width="30.2" height="24.4" fill="#6250a0"/>
<rect x="609.5" y="239.2" width="29.2" height="23.4" fill="none" stroke="#000" stroke-opacity="0.09" stroke-width="1"/>
<rect x="609" y="267.1" width="30.2" height="5.1" fill="#b450c8"/>
<rect x="609.5" y="267.6" width="29.2" height="4.1" fill="none" stroke="#000" stroke-opacity="0.09" stroke-width="1"/>
<rect x="609" y="276.6" width="30.2" height="1" fill="#a8d8a0"/>
<rect x="609" y="282.1" width="30.2" height="1.8" fill="#c87840"/>
<rect x="609" y="288.9" width="30.2" height="1.6" fill="#a0a030"/>
<rect x="609" y="295.1" width="30.2" height="1.2" fill="#e060b0"/>
<rect x="609" y="301.1" width="30.2" height="1" fill="#80d0a0"/>
<rect x="609" y="306.6" width="30.2" height="1" fill="#c0c8f0"/>
<rect x="609" y="312.2" width="30.2" height="1.7" fill="#6860c0"/>
<rect x="609" y="319.4" width="30.2" height="7.2" fill="#60e080"/>
<rect x="609.5" y="319.9" width="29.2" height="6.2" fill="none" stroke="#000" stroke-opacity="0.09" stroke-width="1"/>
<rect x="609" y="332.1" width="30.2" height="3.6" fill="#40a858"/>
<rect x="609.5" y="332.6" width="29.2" height="2.6" fill="none" stroke="#000" stroke-opacity="0.09" stroke-width="1"/>
<rect x="609" y="340.8" width="30.2" height="49.1" fill="#c858b0"/>
<rect x="609.5" y="341.3" width="29.2" height="48.1" fill="none" stroke="#000" stroke-opacity="0.09" stroke-width="1"/>
<rect x="609" y="394.9" width="30.2" height="7.6" fill="#d86890"/>
<rect x="609.5" y="395.4" width="29.2" height="6.6" fill="none" stroke="#000" stroke-opacity="0.09" stroke-width="1"/>
<rect x="609" y="407" width="30.2" height="35.3" fill="#6676b8"/>
<rect x="609.5" y="407.5" width="29.2" height="34.3" fill="none" stroke="#000" stroke-opacity="0.09" stroke-width="1"/></g>
<g style="will-change:transform"><text class="h" x="1.2" y="78.2" textLength="107" lengthAdjust="spacingAndGlyphs">Provincial-level</text>
<text class="h" x="1.2" y="91.8" textLength="156.8" lengthAdjust="spacingAndGlyphs">administrative division</text>
<text class="h" x="594" y="10.5" textLength="89.2" lengthAdjust="spacingAndGlyphs">Ethnic group</text>
<text class="t" x="53" y="144.7" text-anchor="end">Yunnan</text>
<text class="t" x="53" y="216.7" text-anchor="end">Guangxi</text>
<text class="t" x="53" y="243.4" text-anchor="end">Hainan</text>
<text class="t" x="53" y="255" text-anchor="end">Jilin</text>
<text class="t" x="53" y="268.2" text-anchor="end">Taiwan</text>
<text class="t" x="53" y="279.7" text-anchor="end">Sichuan</text>
<text class="t" x="53" y="290.8" text-anchor="end">Guangdong</text>
<text class="t" x="53" y="332.2" text-anchor="end">Guizhou</text>
<text class="t" x="53" y="389.6" text-anchor="end">Hunan</text>
<text class="t" x="53" y="418" text-anchor="end">Chongqing</text>
<text class="t" x="53" y="438" text-anchor="end">Hubei</text>
<text class="t" x="56" y="258.8">Fujian</text>
<text class="t" x="56" y="269.9">Helongjiang</text>
<text class="t" x="642" y="32.7">Dai</text>
<text class="t" x="642" y="43.4">Jinuo</text>
<text class="t" x="642" y="54.8">Bulang</text>
<text class="t" x="642" y="64.9">Jingpo</text>
<text class="t" x="642" y="77.1">Lahu</text>
<text class="t" x="642" y="86.5">Lisu</text>
<text class="t" x="642" y="95.3">Pumi</text>
<text class="t" x="642" y="116.8">Hani</text>
<text class="t" x="642" y="128.9">Naxi</text>
<text class="t" x="642" y="148.3">Yi</text>
<text class="t" x="642" y="164.5">Bai</text>
<text class="t" x="642" y="174.9">Hui</text>
<text class="t" x="642" y="192.9">Zhuang</text>
<text class="t" x="642" y="224.7">Dong</text>
<text class="t" x="642" y="252.8">Yao</text>
<text class="t" x="642" y="272.3">Li</text>
<text class="t" x="642" y="283">Chaoxian</text>
<text class="t" x="642" y="293.3">Qiang</text>
<text class="t" x="642" y="304.6">Gaoshan</text>
<text class="t" x="642" y="316.4">Gelao</text>
<text class="t" x="642" y="328.1">Buyi</text>
<text class="t" x="642" y="340.8">Shui</text>
<text class="t" x="642" y="369.8">Miao</text>
<text class="t" x="642" y="402.5">Han</text>
<text class="t" x="642" y="429.2">Tujia</text>
<text class="t" x="645.5" y="105.5">Zang</text>
<text class="t" x="639" y="51.9" text-anchor="end">Wa</text>
<text class="t" x="639" y="63.3" text-anchor="end">Deang</text>
<text class="t" x="639" y="72.7" text-anchor="end">Achang</text>
<text class="t" x="639" y="91.0" text-anchor="end">Dulong</text>
<text class="t" x="639" y="105.9" text-anchor="end">Mosuo</text>
<text class="t" x="639" y="281.0" text-anchor="end">Nu</text>
<text class="t" x="639" y="299.9" text-anchor="end">She</text>
<text class="t" x="639" y="310.8" text-anchor="end">Maonan</text>
<line x1="639.5" y1="97.4" x2="645" y2="102.1" stroke="#666" stroke-width="0.5"/>
<text class="v" x="130" y="120.7" text-anchor="middle">46.53</text>
<text class="v" x="130" y="144.9" text-anchor="middle">66.78</text>
<text class="v" x="130" y="168.6" text-anchor="middle">32.20</text>
<text class="v" x="130" y="216.6" text-anchor="middle">71.24</text>
<text class="v" x="130" y="277.3" text-anchor="middle">36.24</text>
<text class="v" x="130" y="314" text-anchor="middle">65.88</text>
<text class="v" x="130" y="349.6" text-anchor="middle">63.85</text>
<text class="v" x="130" y="369.9" text-anchor="middle">17.03</text>
<text class="v" x="130" y="389.7" text-anchor="middle">59.74</text>
<text class="v" x="130" y="405.6" text-anchor="middle">22.03</text>
<text class="v" x="130" y="416.5" text-anchor="middle">19.39</text>
<text class="v" x="130" y="430" text-anchor="middle">27.88</text>
<text class="v" x="583.5" y="36.1">19.81</text>
<text class="v" x="583.5" y="84.6">5.41</text>
<text class="v" x="583.5" y="114.7">17.36</text>
<text class="v" x="583.5" y="126.2">10.04</text>
<text class="v" x="583.5" y="140.3">20.17</text>
<text class="v" x="583.5" y="152.1">25.09</text>
<text class="v" x="583.5" y="192.4">44.46</text>
<text class="v" x="583.5" y="224">57.48</text>
<text class="v" x="583.5" y="254.4">39.21</text>
<text class="v" x="583.5" y="272.6">9.13</text>
<text class="v" x="583.5" y="326.1">18.16</text>
<text class="v" x="583.5" y="402.6">17.14</text>
<text class="v" x="583.5" y="431.1">62.35</text>
<text class="v" x="607.8" y="372.4" text-anchor="end">132.79</text>
<text class="v" x="532" y="59.9" text-anchor="middle">46.53</text>
<text class="v" x="439.5" y="140.9" text-anchor="middle">73.08</text>
<text class="v" x="347.5" y="243.4" text-anchor="middle">311.84</text>
<text class="v" x="255.5" y="368.8" text-anchor="middle">148.69</text>
<text class="v" x="163" y="421.5" text-anchor="middle">70.25</text>
<text class="ty" x="552" y="60.7" textLength="30.6" lengthAdjust="spacingAndGlyphs">Type I</text>
<text class="ty" x="460.6" y="140" textLength="33.4" lengthAdjust="spacingAndGlyphs">Type II</text>
<text class="ty" x="370.2" y="243.4" textLength="37.4" lengthAdjust="spacingAndGlyphs">Type III</text>
<text class="ty" x="278.2" y="368.8" textLength="37.2" lengthAdjust="spacingAndGlyphs">Type IV</text>
<text class="ty" x="185.3" y="421.2" textLength="36.4" lengthAdjust="spacingAndGlyphs">Type V</text></g>
</svg></body></html>
